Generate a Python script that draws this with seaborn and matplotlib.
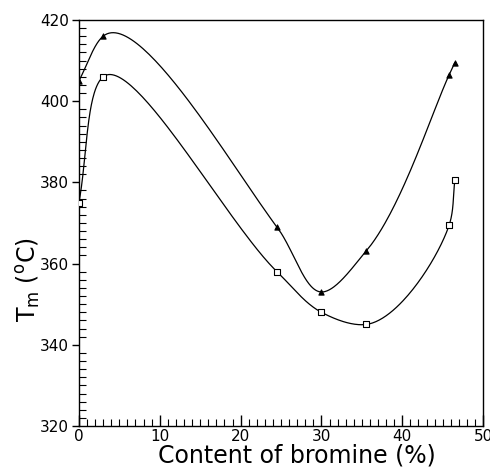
import numpy as np
import pandas as pd
import matplotlib
matplotlib.use("Agg")
import matplotlib.pyplot as plt
import seaborn as sns
from matplotlib.ticker import MultipleLocator

# Data
bromine_tri = [0, 3, 24.5, 30, 35.5, 45.8, 46.5]
tm_tri = [405, 416, 369, 353, 363, 406.5, 409.5]
bromine_sq = [0, 3, 24.5, 30, 35.5, 45.8, 46.5]
tm_sq = [375, 406, 358, 348, 345, 369.5, 380.5]

XMIN, XMAX, YMIN, YMAX = 0, 50, 320, 420


def catmull_rom(x, y, alpha=0.8, n=60):
    """Catmull-Rom curve through the points (normalised space)."""
    P = np.column_stack([(np.asarray(x, float) - XMIN) / (XMAX - XMIN),
                         (np.asarray(y, float) - YMIN) / (YMAX - YMIN)])
    P = np.vstack([2 * P[0] - P[1], P, 2 * P[-1] - P[-2]])
    out = []
    for i in range(1, len(P) - 2):
        p0, p1, p2, p3 = P[i - 1], P[i], P[i + 1], P[i + 2]
        t0 = 0.0
        t1 = t0 + np.linalg.norm(p1 - p0) ** alpha
        t2 = t1 + np.linalg.norm(p2 - p1) ** alpha
        t3 = t2 + np.linalg.norm(p3 - p2) ** alpha
        t = np.linspace(t1, t2, n)[:, None]
        a1 = (t1 - t) / (t1 - t0) * p0 + (t - t0) / (t1 - t0) * p1
        a2 = (t2 - t) / (t2 - t1) * p1 + (t - t1) / (t2 - t1) * p2
        a3 = (t3 - t) / (t3 - t2) * p2 + (t - t2) / (t3 - t2) * p3
        b1 = (t2 - t) / (t2 - t0) * a1 + (t - t0) / (t2 - t0) * a2
        b2 = (t3 - t) / (t3 - t1) * a2 + (t - t1) / (t3 - t1) * a3
        c = (t2 - t) / (t2 - t1) * b1 + (t - t1) / (t2 - t1) * b2
        out.append(c)
    C = np.vstack(out)
    return C[:, 0] * (XMAX - XMIN) + XMIN, C[:, 1] * (YMAX - YMIN) + YMIN


sns.set_style("ticks")
plt.rcParams["font.family"] = ["DejaVu Sans"]
plt.rcParams["text.color"] = "black"
plt.rcParams["axes.labelcolor"] = "black"

fig = plt.figure(figsize=(4.9, 4.73), dpi=100)
ax = fig.add_axes([0.161, 0.0994, 0.825, 0.8584])

for bx, ty, mk, fc in [(bromine_tri, tm_tri, "^", "black"),
                       (bromine_sq, tm_sq, "s", "white")]:
    xs, ys = catmull_rom(bx, ty)
    sns.lineplot(x=xs, y=ys, ax=ax, color="black", lw=0.9, sort=False,
                 estimator=None)
    sns.scatterplot(x=bx, y=ty, ax=ax, marker=mk, s=14, color=fc,
                    edgecolor="black", linewidth=0.8, zorder=5)

ax.set_xlim(XMIN, XMAX)
ax.set_ylim(YMIN, YMAX)
ax.xaxis.set_major_locator(MultipleLocator(10))
ax.xaxis.set_minor_locator(MultipleLocator(1))
ax.yaxis.set_major_locator(MultipleLocator(20))
ax.yaxis.set_minor_locator(MultipleLocator(2))

ax.tick_params(axis="x", which="major", direction="in", length=8, width=1,
               labelsize=11, pad=2, colors="black")
ax.tick_params(axis="x", which="minor", direction="in", length=5, width=0.8,
               colors="black")
ax.tick_params(axis="y", which="major", direction="out", length=5, width=1,
               labelsize=11, pad=2, colors="black")
ax.tick_params(axis="y", which="minor", direction="in", length=5, width=0.8,
               colors="black")

for s in ax.spines.values():
    s.set_linewidth(1.0)
    s.set_color("black")

ax.set_xlabel("Content of bromine (%)", fontsize=17, labelpad=0)
ax.xaxis.label.set_position((0.54, 0))
ax.set_ylabel(r"T$_\mathrm{m}$ ($^\mathrm{o}$C)", fontsize=17)
ax.yaxis.set_label_coords(-0.09, 0.36)

fig.savefig("out.png", dpi=100)
